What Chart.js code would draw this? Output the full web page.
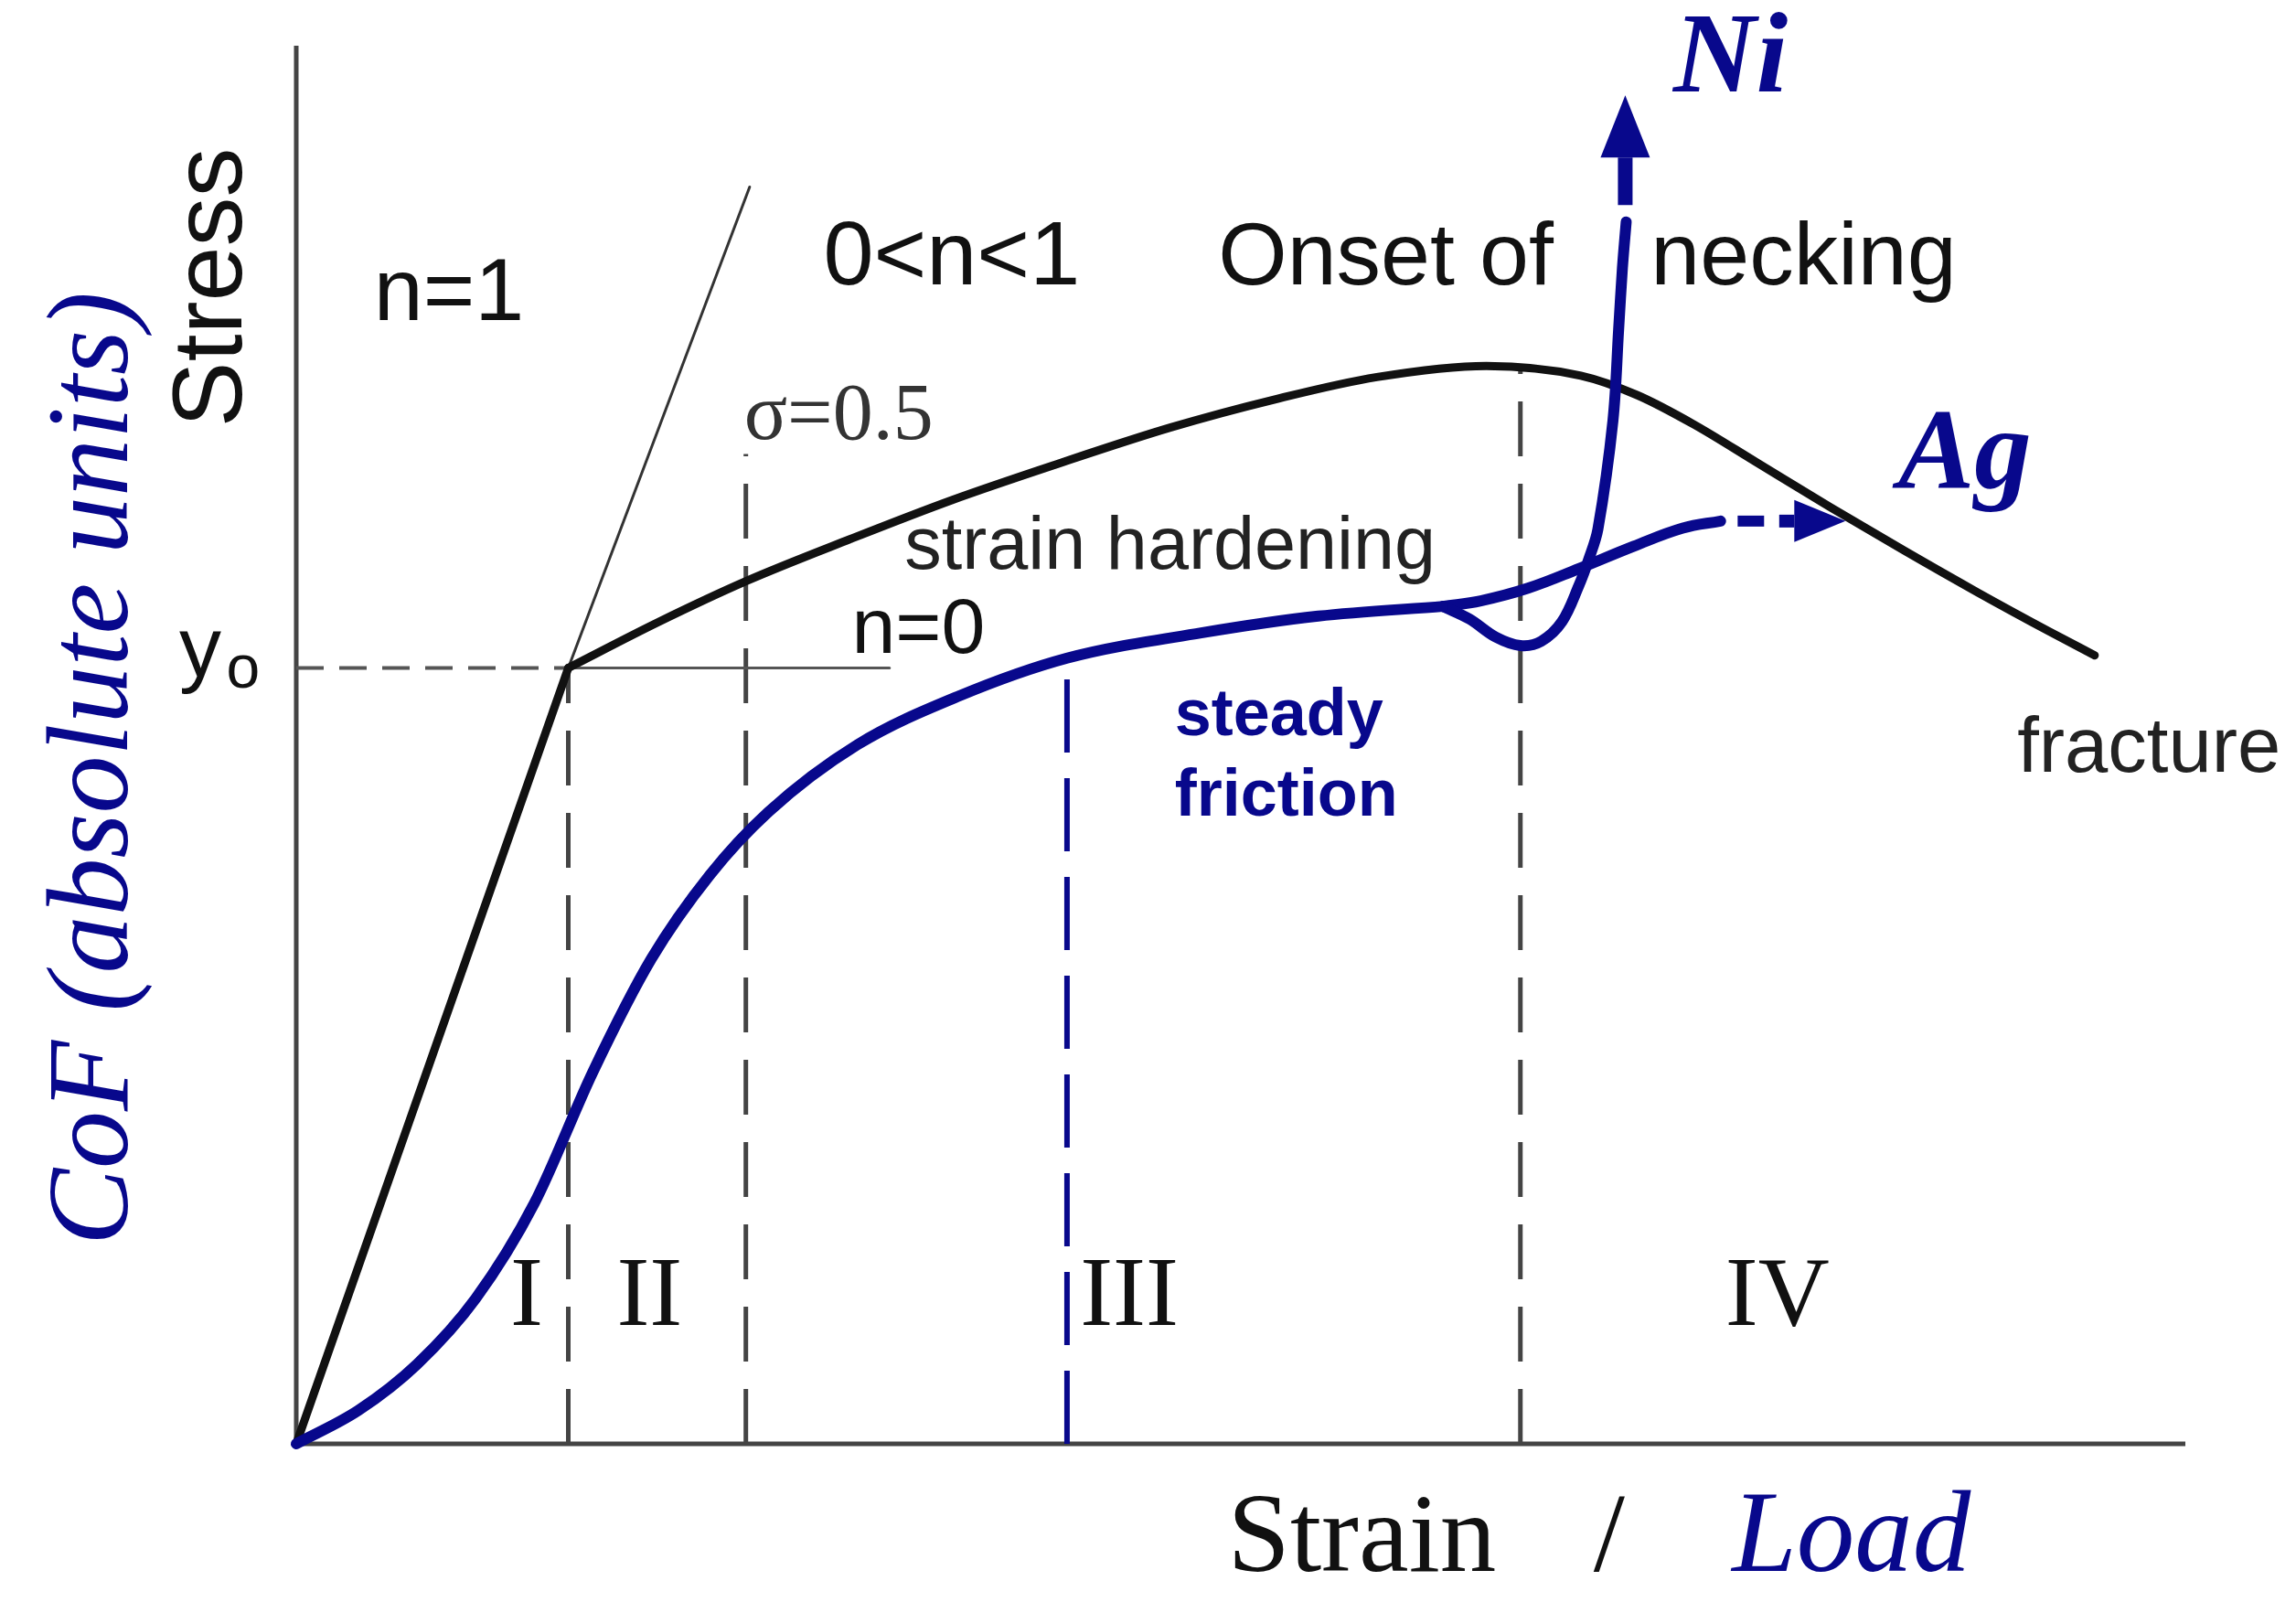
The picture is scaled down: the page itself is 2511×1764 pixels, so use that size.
<!DOCTYPE html>
<html>
<head>
<meta charset="utf-8">
<script src="https://cdn.jsdelivr.net/npm/chart.js@4.4.0/dist/chart.umd.min.js"></script>
<style>
  html, body { margin:0; padding:0; background:#fff; }
</style>
</head>
<body>
<canvas id="chart" width="2511" height="1764"></canvas>
<script>
// schematic units: strain / load on x (0..10), stress / CoF on y (0..10)
const elasticX = [0, 1.44];
const elasticY = [0, 5.55];
const tangentX = [1.44, 2.40];
const tangentY = [5.55, 8.99];

const stressX = [1.44, 1.92, 2.38, 2.93, 3.47, 4.01, 4.63, 5.18, 5.72, 6.30, 6.80, 7.10, 7.40, 7.73, 8.12, 8.51, 8.90, 9.28, 9.52];
const stressY = [5.55, 5.88, 6.17, 6.47, 6.75, 7.00, 7.27, 7.47, 7.63, 7.71, 7.64, 7.50, 7.29, 7.02, 6.70, 6.39, 6.09, 5.81, 5.64];

const cofX = [0, 0.33, 0.64, 0.95, 1.26, 1.57, 1.88, 2.19, 2.50, 2.97, 3.51, 4.08, 4.79, 5.41, 6.07];
const cofY = [0, 0.24, 0.57, 1.04, 1.72, 2.66, 3.47, 4.07, 4.52, 5.00, 5.35, 5.62, 5.80, 5.92, 5.99];

const niX = [6.07, 6.21, 6.35, 6.48, 6.59, 6.70, 6.79, 6.84, 6.89, 6.97, 7.00, 7.02, 7.04];
const niY = [5.99, 5.90, 5.77, 5.71, 5.74, 5.88, 6.14, 6.32, 6.54, 7.32, 7.97, 8.41, 8.74];
const niArrowX = [7.035, 7.035];
const niArrowY = [8.86, 9.20];

const agX = [6.07, 6.27, 6.52, 6.79, 7.08, 7.34, 7.54];
const agY = [5.99, 6.03, 6.12, 6.26, 6.42, 6.55, 6.60];
const agDashX = [7.63, 7.77];
const agArrowX = [7.85, 7.93];
const agArrowY = 6.60;

// regime boundaries I|II|III|IV and the steady friction onset
const regionBoundX = [1.44, 2.38, 6.48];
const regionBoundTop = [5.55, 7.08, 7.69];
const steadyX = 4.08;
const steadyTop = 5.62;

const yieldStress = 5.55;
const yieldStrain = 1.44;
const yieldLineEnd = 3.14;

const navy = '#08088c';

const pts = (xs, ys) => xs.map((x, i) => ({ x, y: Array.isArray(ys) ? ys[i] : ys }));

const base = { showLine: true, pointRadius: 0, fill: false, clip: false, borderCapStyle: 'round', borderJoinStyle: 'round' };

const datasets = [
    // blue CoF curves on top
    { ...base, data: pts(cofX, cofY), borderColor: navy, borderWidth: 12, cubicInterpolationMode: 'monotone', order: 0 },
    { ...base, data: pts(niX, niY), borderColor: navy, borderWidth: 12, tension: 0.35, order: 0 },
    { ...base, data: pts(agX, agY), borderColor: navy, borderWidth: 12, tension: 0.4, order: 0 },
    { ...base, data: pts(agDashX, agY[agY.length - 1]), borderColor: navy, borderWidth: 12, borderCapStyle: 'butt', order: 0 },
    { ...base, data: pts(niArrowX, niArrowY), borderColor: navy, borderWidth: 16, borderCapStyle: 'butt', order: 0, arrowHead: { len: 68, half: 27 } },
    { ...base, data: pts(agArrowX, agArrowY), borderColor: navy, borderWidth: 14, borderCapStyle: 'butt', order: 0, arrowHead: { len: 56, half: 23 } },
    { ...base, data: [{ x: steadyX, y: 0 }, { x: steadyX, y: steadyTop }], borderColor: navy, borderWidth: 6, borderDash: [80, 28], borderCapStyle: 'butt', order: 1 },

    // black stress-strain curve
    { ...base, data: pts(elasticX, elasticY), borderColor: '#111', borderWidth: 9, order: 2 },
    { ...base, data: pts(stressX, stressY), borderColor: '#111', borderWidth: 9, cubicInterpolationMode: 'monotone', order: 2 },
    { ...base, data: pts(tangentX, tangentY), borderColor: '#333', borderWidth: 3, order: 3 },

    // yield level
    { ...base, data: [{ x: 0, y: yieldStress }, { x: yieldStrain, y: yieldStress }], borderColor: '#555', borderWidth: 4, borderDash: [30, 17], borderCapStyle: 'butt', order: 3 },
    { ...base, data: [{ x: yieldStrain, y: yieldStress }, { x: yieldLineEnd, y: yieldStress }], borderColor: '#555', borderWidth: 3, order: 3 },

    // regime boundaries
    ...regionBoundX.map((bx, i) => ({ ...base, data: [{ x: bx, y: 0 }, { x: bx, y: regionBoundTop[i] }], borderColor: '#444', borderWidth: 5, borderDash: [60, 30], borderCapStyle: 'butt', order: 4 }))
];

const annotations = [
    { text: 'Stress', x: -0.29, y: 8.27, font: '108px "Liberation Sans"', color: '#111', align: 'center', rotate: true },
    { text: 'CoF (absolute units)', x: -0.895, y: 4.83, font: 'italic 126px "Liberation Serif"', color: navy, align: 'center', rotate: true },
    { text: 'n=1', x: 0.41, y: 8.04, font: '97px "Liberation Sans"', color: '#111' },
    { text: '0<n<1', x: 2.79, y: 8.29, font: '99px "Liberation Sans"', color: '#111' },
    { text: 'Onset of', x: 4.88, y: 8.29, font: '97px "Liberation Sans"', color: '#111' },
    { text: 'necking', x: 7.17, y: 8.29, font: '97px "Liberation Sans"', color: '#111' },
    { text: 'σ=0.5', x: 2.37, y: 7.19, font: '88px "Liberation Serif"', color: '#333' },
    { text: 'strain hardening', x: 3.22, y: 6.26, font: '81px "Liberation Sans"', color: '#222' },
    { text: 'n=0', x: 2.94, y: 5.66, font: '86px "Liberation Sans"', color: '#111' },
    { text: 'y', x: -0.62, y: 5.49, font: '92px "Liberation Sans"', color: '#111' },
    { text: 'o', x: -0.37, y: 5.41, font: '66px "Liberation Sans"', color: '#111' },
    { text: 'steady', x: 4.65, y: 5.07, font: 'bold 72px "Liberation Sans"', color: navy },
    { text: 'friction', x: 4.65, y: 4.49, font: 'bold 72px "Liberation Sans"', color: navy },
    { text: 'fracture', x: 9.11, y: 4.81, font: '85px "Liberation Sans"', color: '#222' },
    { text: 'I', x: 1.22, y: 0.85, font: '108px "Liberation Serif"', color: '#111', align: 'center' },
    { text: 'II', x: 1.87, y: 0.85, font: '108px "Liberation Serif"', color: '#111', align: 'center' },
    { text: 'III', x: 4.41, y: 0.85, font: '108px "Liberation Serif"', color: '#111', align: 'center' },
    { text: 'IV', x: 7.84, y: 0.85, font: '108px "Liberation Serif"', color: '#111', align: 'center' },
    { text: 'Strain', x: 4.93, y: -0.91, font: '123px "Liberation Serif"', color: '#111' },
    { text: '/', x: 6.95, y: -0.91, font: '123px "Liberation Serif"', color: '#111', align: 'center' },
    { text: 'Load', x: 7.60, y: -0.91, font: 'italic 127px "Liberation Serif"', color: navy },
    { text: 'Ni', x: 7.29, y: 9.67, font: 'bold italic 125px "Liberation Serif"', color: navy },
    { text: 'Ag', x: 8.48, y: 6.84, font: 'bold italic 125px "Liberation Serif"', color: navy }
];

// white page + axis frame
const framePlugin = {
    id: 'frame',
    beforeDraw(chart) {
        const { ctx, width, height } = chart;
        ctx.save();
        ctx.fillStyle = '#fff';
        ctx.fillRect(0, 0, width, height);
        ctx.restore();
    },
    beforeDatasetsDraw(chart) {
        const { ctx, scales: { x, y } } = chart;
        const x0 = x.getPixelForValue(0), y0 = y.getPixelForValue(0);
        ctx.save();
        ctx.strokeStyle = '#444';
        ctx.lineWidth = 5;
        ctx.beginPath();
        ctx.moveTo(x0, y.getPixelForValue(10));
        ctx.lineTo(x0, y0);
        ctx.lineTo(x.getPixelForValue(10), y0);
        ctx.stroke();
        ctx.restore();
    }
};

// arrow heads at the end of flagged datasets
const arrowPlugin = {
    id: 'arrows',
    afterDatasetsDraw(chart) {
        const ctx = chart.ctx;
        chart.data.datasets.forEach((ds, i) => {
            if (!ds.arrowHead) return;
            const els = chart.getDatasetMeta(i).data;
            const a = els[els.length - 2], b = els[els.length - 1];
            const ang = Math.atan2(b.y - a.y, b.x - a.x);
            const { len, half } = ds.arrowHead;
            ctx.save();
            ctx.translate(b.x, b.y);
            ctx.rotate(ang);
            ctx.fillStyle = ds.borderColor;
            ctx.beginPath();
            ctx.moveTo(len, 0);
            ctx.lineTo(0, -half);
            ctx.lineTo(0, half);
            ctx.closePath();
            ctx.fill();
            ctx.restore();
        });
    }
};

const textPlugin = {
    id: 'texts',
    afterDatasetsDraw(chart) {
        const { ctx, scales: { x, y } } = chart;
        annotations.forEach(a => {
            ctx.save();
            ctx.translate(x.getPixelForValue(a.x), y.getPixelForValue(a.y));
            if (a.rotate) ctx.rotate(-Math.PI / 2);
            ctx.font = a.font;
            ctx.fillStyle = a.color;
            ctx.textAlign = a.align || 'left';
            ctx.textBaseline = 'alphabetic';
            ctx.fillText(a.text, 0, 0);
            ctx.restore();
        });
    }
};

new Chart(document.getElementById('chart').getContext('2d'), {
    type: 'scatter',
    data: { datasets },
    options: {
        responsive: false,
        animation: false,
        devicePixelRatio: 1,
        layout: { padding: { left: 324, right: 121, top: 50, bottom: 185 } },
        scales: {
            x: { type: 'linear', min: 0, max: 10, display: false },
            y: { type: 'linear', min: 0, max: 10, display: false }
        },
        plugins: { legend: { display: false }, tooltip: { enabled: false } }
    },
    plugins: [framePlugin, arrowPlugin, textPlugin]
});
</script>
</body>
</html>
